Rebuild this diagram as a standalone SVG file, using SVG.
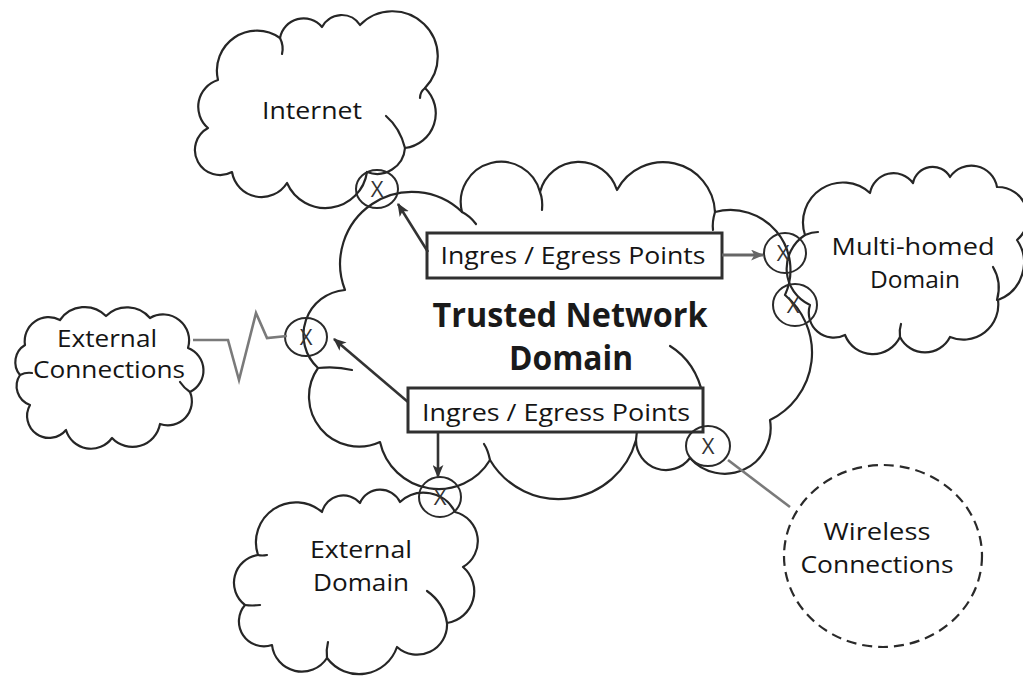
<svg xmlns="http://www.w3.org/2000/svg" width="1023" height="684" viewBox="0 0 1023 684">
<defs>
<style>
.cloud{fill:none;stroke:#262626;stroke-width:2.2;stroke-linejoin:round;stroke-linecap:round}
.inner{fill:none;stroke:#262626;stroke-width:2.2;stroke-linecap:round}
.xc{fill:none;stroke:#2a2a2a;stroke-width:2}
.xt{font-family:"Open Sans","Liberation Sans",sans-serif;font-size:22px;fill:#333;text-anchor:middle}
.lbl{font-family:"Open Sans","Liberation Sans",sans-serif;font-size:23px;fill:#151515;text-anchor:middle}
.title{font-family:"Open Sans","Liberation Sans",sans-serif;font-size:34px;font-weight:bold;fill:#1a1a1a;text-anchor:middle}
.box{fill:#fff;stroke:#303030;stroke-width:3}
.arrow{fill:none;stroke:#333;stroke-width:2.6}
.garrow{fill:none;stroke:#666;stroke-width:3}
.gline{fill:none;stroke:#7a7a7a;stroke-width:2.6;stroke-linejoin:miter}
.dashed{fill:none;stroke:#2a2a2a;stroke-width:2.2;stroke-dasharray:10 6}
</style>
<marker id="ah" viewBox="0 0 12 10" refX="11" refY="5" markerWidth="13" markerHeight="11" markerUnits="userSpaceOnUse" orient="auto">
<path d="M0,0 L12,5 L0,10 L3,5 Z" fill="#333"/>
</marker>
<marker id="ahg" viewBox="0 0 12 10" refX="11" refY="5" markerWidth="13" markerHeight="11" markerUnits="userSpaceOnUse" orient="auto">
<path d="M0,0 L12,5 L0,10 L3,5 Z" fill="#666"/>
</marker>
</defs>
<rect width="1023" height="684" fill="#fff"/>

<g id="internet">
<path class="cloud" d="M218 80 A40 40 0 0 1 280 38 A24 24 0 0 1 322 27 A22 22 0 0 1 360 25 A45 45 0 0 1 425 88 A35 35 0 0 1 405 148 A28 28 0 0 1 367 172 A42 42 0 0 1 287 183 A30 30 0 0 1 232 172 A25 25 0 0 1 208 128 A28 28 0 0 1 218 80 Z"/>
<path class="inner" d="M405 148 Q400 128 386 116"/>
<path class="inner" d="M280 38 Q284 46 282 54"/>
<path class="inner" d="M425 88 Q420 92 420 98"/>
<text class="lbl" x="312" y="119" textLength="100" lengthAdjust="spacingAndGlyphs">Internet</text>
</g>

<g id="trusted">
<path class="cloud" d="M345 290 A72 72 0 0 1 462 212 A40 40 0 0 1 540 192 A40 40 0 0 1 617 190 A52 52 0 0 1 715 212 A60 60 0 0 1 785 295 A75 75 0 0 1 770 420 A46 46 0 0 1 690 458 A30 30 0 0 1 636 440 A80 80 0 0 1 490 460 A60 60 0 0 1 380 442 A50 50 0 0 1 318 368 A45 45 0 0 1 345 290 Z"/>
<path class="inner" d="M462 212 Q470 216 476 224"/>
<path class="inner" d="M540 192 Q543 200 542 210"/>
<path class="inner" d="M715 212 Q712 222 713 230"/>
<path class="inner" d="M670 346 Q696 362 703 396"/>
<path class="inner" d="M318 368 Q336 366 352 370"/>
<path class="inner" d="M490 460 Q488 450 484 444"/>
<path class="inner" d="M636 440 Q638 426 636 414"/>
<text class="title" x="570" y="327" textLength="275" lengthAdjust="spacingAndGlyphs">Trusted Network</text>
<text class="title" x="571" y="370" textLength="124" lengthAdjust="spacingAndGlyphs">Domain</text>
</g>

<g id="external-connections">
<path class="cloud" d="M25 345 A24 24 0 0 1 60 320 A30 30 0 0 1 106 316 A30 30 0 0 1 150 318 A26 26 0 0 1 188 348 A24 24 0 0 1 190 392 A24 24 0 0 1 160 424 A28 28 0 0 1 112 438 A26 26 0 0 1 66 430 A22 22 0 0 1 30 405 A20 20 0 0 1 20 375 A20 20 0 0 1 25 345 Z"/>
<path class="inner" d="M20 375 Q26 372 32 373"/>
<path class="inner" d="M190 392 Q184 388 180 382"/>
<text class="lbl" x="107" y="347" textLength="100" lengthAdjust="spacingAndGlyphs">External</text>
<text class="lbl" x="109" y="378" textLength="152" lengthAdjust="spacingAndGlyphs">Connections</text>
</g>

<g id="external-domain">
<path class="cloud" d="M258 555 A40 40 0 0 1 322 512 A22 22 0 0 1 360 503 A22 22 0 0 1 400 502 A35 35 0 0 1 455 512 A30 30 0 0 1 463 567 A32 32 0 0 1 447 623 A30 30 0 0 1 397 647 A40 40 0 0 1 327 658 A30 30 0 0 1 272 645 A25 25 0 0 1 245 605 A28 28 0 0 1 258 555 Z"/>
<path class="inner" d="M427 591 Q444 603 447 623"/>
<path class="inner" d="M327 658 Q326 650 328 642"/>
<path class="inner" d="M245 605 Q252 606 260 605"/>
<path class="inner" d="M258 555 Q262 556 267 555"/>
<text class="lbl" x="361" y="558" textLength="102" lengthAdjust="spacingAndGlyphs">External</text>
<text class="lbl" x="361" y="591" textLength="96" lengthAdjust="spacingAndGlyphs">Domain</text>
</g>

<g id="multi-homed">
<path class="cloud" d="M805 235 A40 40 0 0 1 870 193 A24 24 0 0 1 913 183 A20 20 0 0 1 950 177 A26 26 0 0 1 997 187 A30 30 0 0 1 1017 240 A40 40 0 0 1 998 300 A35 35 0 0 1 950 337 A28 28 0 0 1 900 337 A30 30 0 0 1 845 335 A25 25 0 0 1 810 305 A40 40 0 0 1 805 235 Z"/>
<path class="inner" d="M993 267 Q1002 282 997 300"/>
<path class="inner" d="M805 235 Q812 232 818 232"/>
<path class="inner" d="M900 337 Q899 330 901 324"/>
<text class="lbl" x="913" y="255" textLength="163" lengthAdjust="spacingAndGlyphs">Multi-homed</text>
<text class="lbl" x="915" y="288" textLength="90" lengthAdjust="spacingAndGlyphs">Domain</text>
</g>

<g id="wireless">
<ellipse class="dashed" cx="883" cy="556" rx="99" ry="91"/>
<text class="lbl" x="877" y="540" textLength="107" lengthAdjust="spacingAndGlyphs">Wireless</text>
<text class="lbl" x="877" y="573" textLength="153" lengthAdjust="spacingAndGlyphs">Connections</text>
</g>

<g id="box-top">
<rect class="box" x="427" y="233" width="295" height="45"/>
<text class="lbl" x="573" y="264" textLength="265" lengthAdjust="spacingAndGlyphs">Ingres / Egress Points</text>
</g>

<g id="box-bottom">
<rect class="box" x="408" y="388" width="295" height="44"/>
<text class="lbl" x="556" y="421" textLength="268" lengthAdjust="spacingAndGlyphs">Ingres / Egress Points</text>
</g>

<g id="points">
<ellipse class="xc" cx="377" cy="189" rx="21" ry="19"/>
<text class="xt" x="377" y="197">X</text>
<ellipse class="xc" cx="306" cy="337" rx="21" ry="19"/>
<text class="xt" x="306" y="345">X</text>
<ellipse class="xc" cx="440" cy="497" rx="21" ry="20"/>
<text class="xt" x="440" y="505">X</text>
<ellipse class="xc" cx="785" cy="253" rx="21" ry="20"/>
<text class="xt" x="783" y="261">X</text>
<ellipse class="xc" cx="795" cy="305" rx="22" ry="21"/>
<text class="xt" x="793" y="313">X</text>
<ellipse class="xc" cx="708" cy="446" rx="22" ry="20"/>
<text class="xt" x="708" y="454">X</text>
</g>

<g id="connectors">
<line class="arrow" x1="428" y1="252" x2="398" y2="204" marker-end="url(#ah)"/>
<line class="garrow" x1="722" y1="255" x2="763" y2="255" marker-end="url(#ahg)"/>
<line class="arrow" x1="408" y1="402" x2="334" y2="339" marker-end="url(#ah)"/>
<line class="arrow" x1="438" y1="432" x2="438" y2="477" marker-end="url(#ah)"/>
<polyline class="gline" points="193,340 228,340 239,380 256,313 267,338 287,336"/>
<line class="gline" x1="728" y1="460" x2="790" y2="507"/>
</g>
</svg>
